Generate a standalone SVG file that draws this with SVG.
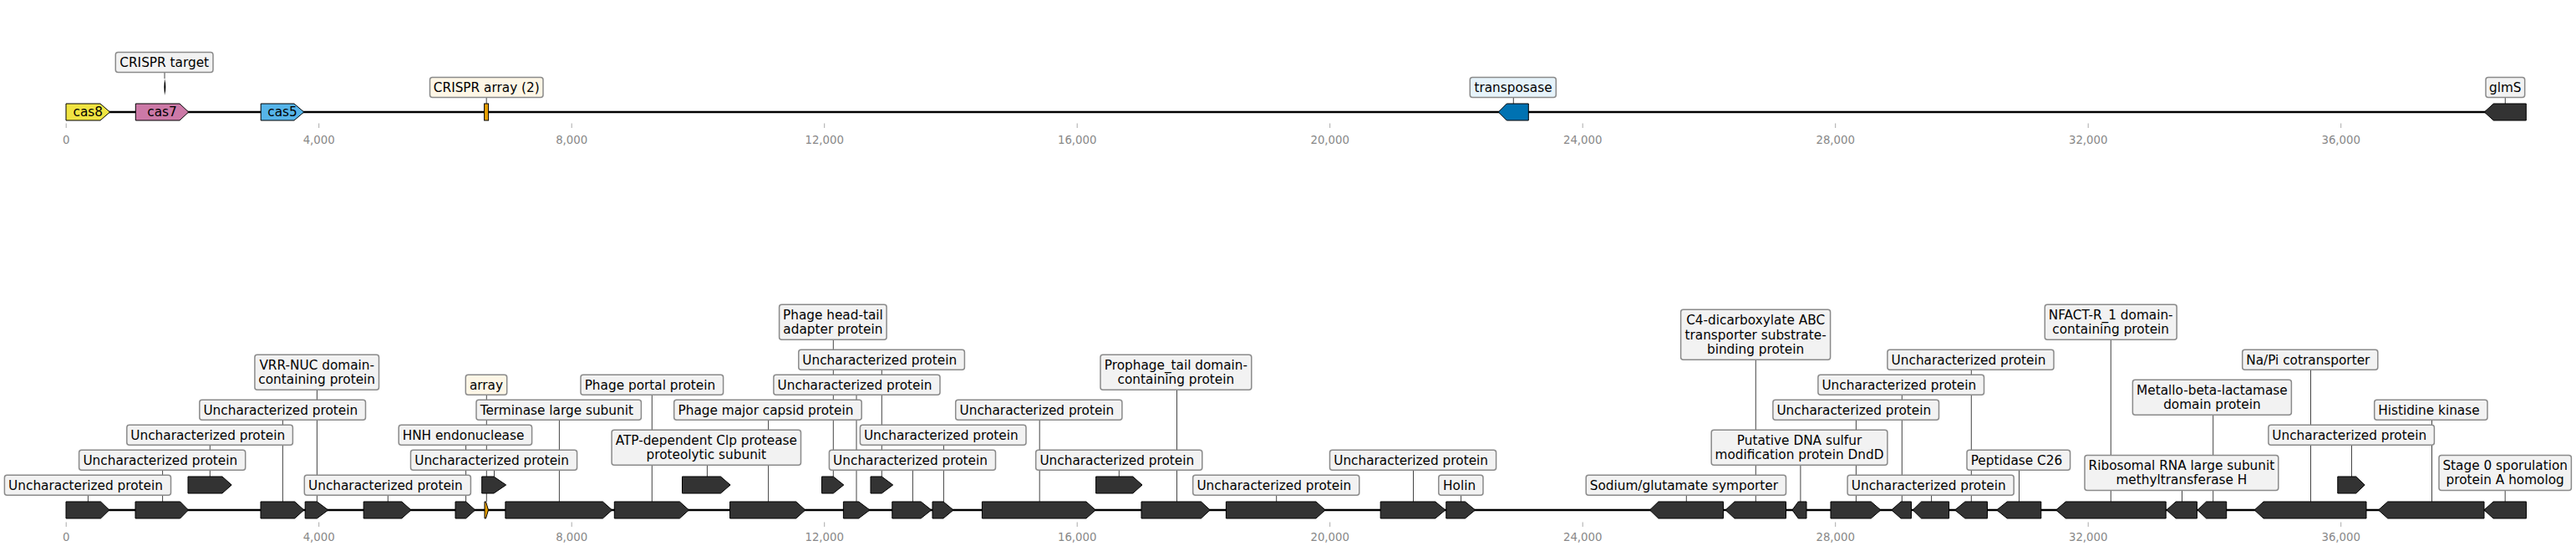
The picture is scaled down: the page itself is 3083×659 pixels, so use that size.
<svg xmlns="http://www.w3.org/2000/svg" width="3083" height="659" viewBox="0 0 3083 659">
<style>
.bl{stroke:#000;stroke-width:2.6;fill:none}
.g{fill:#333;stroke:#000;stroke-width:1}
.lb{fill:#f2f2f2;stroke:#8a8a8a;stroke-width:1.5}
.cr{fill:#fdf6e6}
.tp{fill:#e6f3fa}
.t{font-family:"DejaVu Sans","Liberation Sans",sans-serif;font-size:15.3px;fill:#000;text-anchor:middle}
.ld{stroke:#444;stroke-width:1;fill:none}
.tk{stroke:#aaa;stroke-width:1}
.tl{font-family:"DejaVu Sans","Liberation Sans",sans-serif;font-size:13.3px;fill:#888;text-anchor:middle}
</style>
<rect width="3083" height="659" fill="#fff"/>
<g id="axes">
<line class="bl" x1="79" y1="134" x2="3023" y2="134"/>
<line class="bl" x1="79" y1="610" x2="3023" y2="610"/>
<g class="tk">
<line x1="79.2" y1="147.5" x2="79.2" y2="153"/><line x1="381.7" y1="147.5" x2="381.7" y2="153"/><line x1="684.2" y1="147.5" x2="684.2" y2="153"/><line x1="986.7" y1="147.5" x2="986.7" y2="153"/><line x1="1289.2" y1="147.5" x2="1289.2" y2="153"/><line x1="1591.7" y1="147.5" x2="1591.7" y2="153"/><line x1="1894.2" y1="147.5" x2="1894.2" y2="153"/><line x1="2196.7" y1="147.5" x2="2196.7" y2="153"/><line x1="2499.2" y1="147.5" x2="2499.2" y2="153"/><line x1="2801.7" y1="147.5" x2="2801.7" y2="153"/>
<line x1="79.2" y1="624.5" x2="79.2" y2="630"/><line x1="381.7" y1="624.5" x2="381.7" y2="630"/><line x1="684.2" y1="624.5" x2="684.2" y2="630"/><line x1="986.7" y1="624.5" x2="986.7" y2="630"/><line x1="1289.2" y1="624.5" x2="1289.2" y2="630"/><line x1="1591.7" y1="624.5" x2="1591.7" y2="630"/><line x1="1894.2" y1="624.5" x2="1894.2" y2="630"/><line x1="2196.7" y1="624.5" x2="2196.7" y2="630"/><line x1="2499.2" y1="624.5" x2="2499.2" y2="630"/><line x1="2801.7" y1="624.5" x2="2801.7" y2="630"/>
</g>
<g class="tl">
<text x="79.2" y="171.5">0</text><text x="381.7" y="171.5">4,000</text><text x="684.2" y="171.5">8,000</text><text x="986.7" y="171.5">12,000</text><text x="1289.2" y="171.5">16,000</text><text x="1591.7" y="171.5">20,000</text><text x="1894.2" y="171.5">24,000</text><text x="2196.7" y="171.5">28,000</text><text x="2499.2" y="171.5">32,000</text><text x="2801.7" y="171.5">36,000</text>
<text x="79.2" y="647">0</text><text x="381.7" y="647">4,000</text><text x="684.2" y="647">8,000</text><text x="986.7" y="647">12,000</text><text x="1289.2" y="647">16,000</text><text x="1591.7" y="647">20,000</text><text x="1894.2" y="647">24,000</text><text x="2196.7" y="647">28,000</text><text x="2499.2" y="647">32,000</text><text x="2801.7" y="647">36,000</text>
</g>
</g>
<g id="connectors" class="ld">
<line x1="197" y1="86.5" x2="197" y2="94"/>
<line x1="582.2" y1="116.5" x2="582.2" y2="124"/>
<line x1="1811.3" y1="116.5" x2="1811.3" y2="124"/>
<line x1="2998.3" y1="116.5" x2="2998.3" y2="124"/>
<line x1="105.4" y1="592.3" x2="105.4" y2="600"/>
<line x1="194.6" y1="562.3" x2="194.6" y2="600"/>
<line x1="251.3" y1="532.3" x2="251.3" y2="570"/>
<line x1="338.4" y1="502.3" x2="338.4" y2="600"/>
<line x1="379.4" y1="466.3" x2="379.4" y2="600"/>
<line x1="464.3" y1="592.3" x2="464.3" y2="600"/>
<line x1="557.6" y1="532.3" x2="557.6" y2="600"/>
<line x1="582.3" y1="472.3" x2="582.3" y2="600"/>
<line x1="591.5" y1="562.3" x2="591.5" y2="570"/>
<line x1="669.4" y1="502.3" x2="669.4" y2="600"/>
<line x1="780.3" y1="472.3" x2="780.3" y2="600"/>
<line x1="846.4" y1="556.3" x2="846.4" y2="570"/>
<line x1="919.6" y1="502.3" x2="919.6" y2="600"/>
<line x1="997.3" y1="406.3" x2="997.3" y2="570"/>
<line x1="1025" y1="472.3" x2="1025" y2="600"/>
<line x1="1055.3" y1="442.3" x2="1055.3" y2="570"/>
<line x1="1092.4" y1="562.3" x2="1092.4" y2="600"/>
<line x1="1129.4" y1="532.3" x2="1129.4" y2="600"/>
<line x1="1244.2" y1="502.3" x2="1244.2" y2="600"/>
<line x1="1339.3" y1="562.3" x2="1339.3" y2="570"/>
<line x1="1408.5" y1="466.3" x2="1408.5" y2="600"/>
<line x1="1527.7" y1="592.3" x2="1527.7" y2="600"/>
<line x1="1691.5" y1="562.3" x2="1691.5" y2="600"/>
<line x1="1748.6" y1="592.3" x2="1748.6" y2="600"/>
<line x1="2018.3" y1="592.3" x2="2018.3" y2="600"/>
<line x1="2101.3" y1="430.3" x2="2101.3" y2="600"/>
<line x1="2154.9" y1="556.3" x2="2154.9" y2="600"/>
<line x1="2221.4" y1="502.3" x2="2221.4" y2="600"/>
<line x1="2276.3" y1="472.3" x2="2276.3" y2="600"/>
<line x1="2311.6" y1="592.3" x2="2311.6" y2="600"/>
<line x1="2359.3" y1="442.3" x2="2359.3" y2="600"/>
<line x1="2416.5" y1="562.3" x2="2416.5" y2="600"/>
<line x1="2526.3" y1="406.3" x2="2526.3" y2="600"/>
<line x1="2611.5" y1="586.5" x2="2611.5" y2="600"/>
<line x1="2648.7" y1="496.3" x2="2648.7" y2="600"/>
<line x1="2765.5" y1="442.3" x2="2765.5" y2="600"/>
<line x1="2814.5" y1="532.3" x2="2814.5" y2="570"/>
<line x1="2910.5" y1="502.3" x2="2910.5" y2="600"/>
<line x1="2998.2" y1="586.5" x2="2998.2" y2="600"/>
</g>
<g id="top-track">
<g id="cas8"><polygon class="g" style="fill:#f0e442" points="79,124 120,124 131.6,134 120,144 79,144"/><text class="t" x="105.3" y="139.4">cas8</text></g>
<g id="cas7"><polygon class="g" style="fill:#cc79a7" points="162.3,124 215,124 225.7,134 215,144 162.3,144"/><text class="t" x="194" y="139.4">cas7</text></g>
<g id="cas5"><polygon class="g" style="fill:#56b4e9" points="312.2,124 352,124 363.8,134 352,144 312.2,144"/><text class="t" x="338" y="139.4">cas5</text></g>
<g id="crispr-target"><rect class="lb" x="138.3" y="62.5" width="116.7" height="24" rx="3"/><text class="t" x="196.7" y="80">CRISPR target</text><path d="M197,94 Q199.6,104 197,114 Q195.6,104 197,94 Z" fill="#000"/></g>
<g id="crispr-array-top"><rect class="g" style="fill:#e69f00" x="579.6" y="124" width="5" height="20"/><rect class="lb cr" x="514.5" y="92.5" width="135.5" height="24" rx="3"/><text class="t" x="582.3" y="110">CRISPR array (2)</text></g>
<g id="transposase"><polygon class="g" style="fill:#0072b2" points="1793.3,134 1803.3,124 1829.3,124 1829.3,144 1803.3,144"/><rect class="lb tp" x="1759.3" y="92.5" width="103" height="24" rx="3"/><text class="t" x="1811" y="110">transposase</text></g>
<g id="glmS"><polygon class="g" points="2973.3,134 2984.3,124 3023.3,124 3023.3,144 2984.3,144"/><rect class="lb" x="2975" y="92.5" width="46.7" height="24" rx="3"/><text class="t" x="2998.3" y="110">glmS</text></g>
</g>
<g id="bottom-track">
<g id="b1"><polygon class="g" points="79,600 120.5,600 130.8,610 120.5,620 79,620"/><rect class="lb" x="5.4" y="568.3" width="199.1" height="24" rx="3"/><text class="t" x="102.5" y="585.7">Uncharacterized protein</text></g>
<g id="b2"><polygon class="g" points="162,600 215.6,600 225.4,610 215.6,620 162,620"/><rect class="lb" x="94.6" y="538.3" width="199.1" height="24" rx="3"/><text class="t" x="191.8" y="555.7">Uncharacterized protein</text></g>
<g id="b3"><polygon class="g" points="225,570 266,570 277.2,580 266,590 225,590"/><rect class="lb" x="151.8" y="508.3" width="198.6" height="24" rx="3"/><text class="t" x="248.7" y="525.7">Uncharacterized protein</text></g>
<g id="b4"><polygon class="g" points="312,600 352.7,600 363.8,610 352.7,620 312,620"/><rect class="lb" x="238.8" y="478.3" width="198.7" height="24" rx="3"/><text class="t" x="335.8" y="495.7">Uncharacterized protein</text></g>
<g id="b5"><polygon class="g" points="365.2,600 379.4,600 392.8,610 379.4,620 365.2,620"/><rect class="lb" x="304.9" y="424.3" width="148.6" height="42" rx="3"/><text class="t" x="379.2" y="441.7">VRR-NUC domain-<tspan x="379.2" dy="17.3">containing protein</tspan></text></g>
<g id="b6"><polygon class="g" points="435.2,600 480.8,600 492,610 480.8,620 435.2,620"/><rect class="lb" x="364.3" y="568.3" width="199.1" height="24" rx="3"/><text class="t" x="461.4" y="585.7">Uncharacterized protein</text></g>
<g id="b7"><polygon class="g" points="545,600 557.6,600 568.7,610 557.6,620 545,620"/><rect class="lb" x="477.2" y="508.3" width="159.4" height="24" rx="3"/><text class="t" x="554.5" y="525.7">HNH endonuclease</text></g>
<g id="b8-array"><polygon class="g" style="fill:#e69f00" points="580,600 581.5,600 584.5,610 581.5,620 580,620"/><rect class="lb cr" x="557.3" y="448.3" width="49.4" height="24" rx="3"/><text class="t" x="582" y="465.7">array</text></g>
<g id="b9"><polygon class="g" points="576.7,570 591,570 605.7,580 591,590 576.7,590"/><rect class="lb" x="491.5" y="538.3" width="199.1" height="24" rx="3"/><text class="t" x="588.6" y="555.7">Uncharacterized protein</text></g>
<g id="b10"><polygon class="g" points="604.9,600 721.4,600 732.6,610 721.4,620 604.9,620"/><rect class="lb" x="570" y="478.3" width="197.4" height="24" rx="3"/><text class="t" x="666.3" y="495.7">Terminase large subunit</text></g>
<g id="b11"><polygon class="g" points="735.3,600 813.4,600 824.5,610 813.4,620 735.3,620"/><rect class="lb" x="695" y="448.3" width="170.6" height="24" rx="3"/><text class="t" x="777.9" y="465.7">Phage portal protein</text></g>
<g id="b12"><polygon class="g" points="816.5,570 862.5,570 874.1,580 862.5,590 816.5,590"/><rect class="lb" x="732.1" y="514.3" width="226.4" height="42" rx="3"/><text class="t" x="845.3" y="531.7">ATP-dependent Clp protease<tspan x="845.3" dy="17.3">proteolytic subunit</tspan></text></g>
<g id="b13"><polygon class="g" points="873.6,600 952.7,600 963.8,610 952.7,620 873.6,620"/><rect class="lb" x="806.7" y="478.3" width="224.5" height="24" rx="3"/><text class="t" x="916.5" y="495.7">Phage major capsid protein</text></g>
<g id="b14"><polygon class="g" points="983.5,570 997.3,570 1009.8,580 997.3,590 983.5,590"/><rect class="lb" x="932.6" y="364.3" width="128.5" height="42" rx="3"/><text class="t" x="996.9" y="381.7">Phage head-tail<tspan x="996.9" dy="17.3">adapter protein</tspan></text></g>
<g id="b15"><polygon class="g" points="1009.4,600 1027.7,600 1041,610 1027.7,620 1009.4,620"/><rect class="lb" x="925.9" y="448.3" width="199.1" height="24" rx="3"/><text class="t" x="1023" y="465.7">Uncharacterized protein</text></g>
<g id="b16"><polygon class="g" points="1042,570 1055.3,570 1068.7,580 1055.3,590 1042,590"/><rect class="lb" x="955.8" y="418.3" width="198.6" height="24" rx="3"/><text class="t" x="1052.7" y="435.7">Uncharacterized protein</text></g>
<g id="b17"><polygon class="g" points="1067.8,600 1102.2,600 1114.7,610 1102.2,620 1067.8,620"/><rect class="lb" x="992.4" y="538.3" width="199.1" height="24" rx="3"/><text class="t" x="1089.5" y="555.7">Uncharacterized protein</text></g>
<g id="b18"><polygon class="g" points="1116,600 1129,600 1141,610 1129,620 1116,620"/><rect class="lb" x="1029.4" y="508.3" width="198.6" height="24" rx="3"/><text class="t" x="1126.3" y="525.7">Uncharacterized protein</text></g>
<g id="b19"><polygon class="g" points="1175.4,600 1300,600 1311.2,610 1300,620 1175.4,620"/><rect class="lb" x="1143.7" y="478.3" width="199.2" height="24" rx="3"/><text class="t" x="1240.9" y="495.7">Uncharacterized protein</text></g>
<g id="b20"><polygon class="g" points="1311.6,570 1355.8,570 1367,580 1355.8,590 1311.6,590"/><rect class="lb" x="1239.7" y="538.3" width="199.1" height="24" rx="3"/><text class="t" x="1336.8" y="555.7">Uncharacterized protein</text></g>
<g id="b21"><polygon class="g" points="1366,600 1437.5,600 1448.2,610 1437.5,620 1366,620"/><rect class="lb" x="1317" y="424.3" width="180.8" height="42" rx="3"/><text class="t" x="1407.4" y="441.7">Prophage_tail domain-<tspan x="1407.4" dy="17.3">containing protein</tspan></text></g>
<g id="b22"><polygon class="g" points="1467.4,600 1575,600 1586.1,610 1575,620 1467.4,620"/><rect class="lb" x="1427.7" y="568.3" width="199.1" height="24" rx="3"/><text class="t" x="1524.8" y="585.7">Uncharacterized protein</text></g>
<g id="b23"><polygon class="g" points="1652.2,600 1717.8,600 1729.9,610 1717.8,620 1652.2,620"/><rect class="lb" x="1591.5" y="538.3" width="199.1" height="24" rx="3"/><text class="t" x="1688.6" y="555.7">Uncharacterized protein</text></g>
<g id="b24"><polygon class="g" points="1730.8,600 1753.5,600 1765.6,610 1753.5,620 1730.8,620"/><rect class="lb" x="1721.8" y="568.3" width="53.2" height="24" rx="3"/><text class="t" x="1746.6" y="585.7">Holin</text></g>
<g id="b25"><polygon class="g" points="1974.5,610 1984.8,600 2062.5,600 2062.5,620 1984.8,620"/><rect class="lb" x="1898.2" y="568.3" width="239.3" height="24" rx="3"/><text class="t" x="2015.4" y="585.7">Sodium/glutamate symporter</text></g>
<g id="b26"><polygon class="g" points="2065.2,610 2075.9,600 2137.5,600 2137.5,620 2075.9,620"/><rect class="lb" x="2011.6" y="370.3" width="179" height="60" rx="3"/><text class="t" x="2101.1" y="388.2">C4-dicarboxylate ABC<tspan x="2101.1" dy="17.3">transporter substrate-</tspan><tspan x="2101.1" dy="17.3">binding protein</tspan></text></g>
<g id="b27"><polygon class="g" points="2145,610 2152.2,600 2162,600 2162,620 2152.2,620"/><rect class="lb" x="2048.2" y="514.3" width="210.7" height="42" rx="3"/><text class="t" x="2153.5" y="531.7">Putative DNA sulfur<tspan x="2153.5" dy="17.3">modification protein DndD</tspan></text></g>
<g id="b28"><polygon class="g" points="2191,600 2239.3,600 2250.9,610 2239.3,620 2191,620"/><rect class="lb" x="2121.9" y="478.3" width="198.6" height="24" rx="3"/><text class="t" x="2218.8" y="495.7">Uncharacterized protein</text></g>
<g id="b29"><polygon class="g" points="2263.8,610 2275,600 2287.5,600 2287.5,620 2275,620"/><rect class="lb" x="2175.9" y="448.3" width="198.6" height="24" rx="3"/><text class="t" x="2272.8" y="465.7">Uncharacterized protein</text></g>
<g id="b30"><polygon class="g" points="2289.3,610 2299.5,600 2332.6,600 2332.6,620 2299.5,620"/><rect class="lb" x="2211.1" y="568.3" width="199.1" height="24" rx="3"/><text class="t" x="2308.2" y="585.7">Uncharacterized protein</text></g>
<g id="b31"><polygon class="g" points="2339.7,610 2351.8,600 2378.5,600 2378.5,620 2351.8,620"/><rect class="lb" x="2258.9" y="418.3" width="199.1" height="24" rx="3"/><text class="t" x="2356" y="435.7">Uncharacterized protein</text></g>
<g id="b32"><polygon class="g" points="2389.7,610 2402.2,600 2442.8,600 2442.8,620 2402.2,620"/><rect class="lb" x="2354" y="538.3" width="123.6" height="24" rx="3"/><text class="t" x="2413.4" y="555.7">Peptidase C26</text></g>
<g id="b33"><polygon class="g" points="2460.7,610 2472.3,600 2592.2,600 2592.2,620 2472.3,620"/><rect class="lb" x="2447.3" y="364.3" width="157.9" height="42" rx="3"/><text class="t" x="2526.2" y="381.7">NFACT-R_1 domain-<tspan x="2526.2" dy="17.3">containing protein</tspan></text></g>
<g id="b34"><polygon class="g" points="2593,610 2604.1,600 2629.4,600 2629.4,620 2604.1,620"/><rect class="lb" x="2495" y="544.5" width="231.8" height="42" rx="3"/><text class="t" x="2610.9" y="561.9">Ribosomal RNA large subunit<tspan x="2610.9" dy="17.3">methyltransferase H</tspan></text></g>
<g id="b35"><polygon class="g" points="2630.1,610 2640.5,600 2664.7,600 2664.7,620 2640.5,620"/><rect class="lb" x="2552.4" y="454.3" width="190" height="42" rx="3"/><text class="t" x="2647.4" y="471.7">Metallo-beta-lactamase<tspan x="2647.4" dy="17.3">domain protein</tspan></text></g>
<g id="b36"><polygon class="g" points="2698.2,610 2709,600 2832,600 2832,620 2709,620"/><rect class="lb" x="2683.7" y="418.3" width="162.1" height="24" rx="3"/><text class="t" x="2762.3" y="435.7">Na/Pi cotransporter</text></g>
<g id="b37"><polygon class="g" points="2797.8,570 2819.7,570 2830.2,580 2819.7,590 2797.8,590"/><rect class="lb" x="2714.9" y="508.3" width="198.5" height="24" rx="3"/><text class="t" x="2811.7" y="525.7">Uncharacterized protein</text></g>
<g id="b38"><polygon class="g" points="2846.5,610 2857.7,600 2973,600 2973,620 2857.7,620"/><rect class="lb" x="2841.7" y="478.3" width="135.3" height="24" rx="3"/><text class="t" x="2906.9" y="495.7">Histidine kinase</text></g>
<g id="b39"><polygon class="g" points="2973,610 2984,600 3023.5,600 3023.5,620 2984,620"/><rect class="lb" x="2919" y="544.5" width="158.4" height="42" rx="3"/><text class="t" x="2998.2" y="561.9">Stage 0 sporulation<tspan x="2998.2" dy="17.3">protein A homolog</tspan></text></g>
</g>
</svg>
